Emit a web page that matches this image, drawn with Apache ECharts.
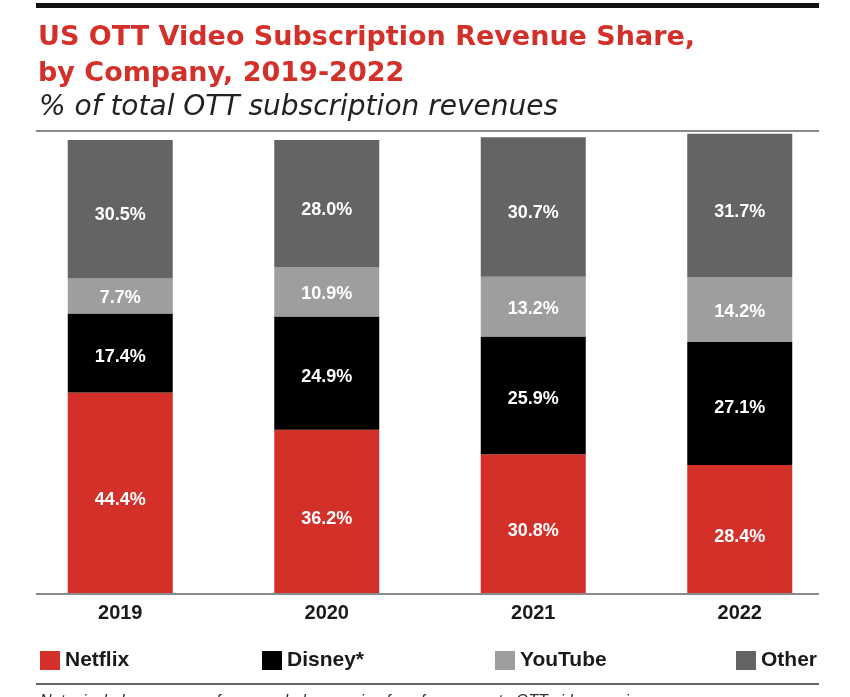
<!DOCTYPE html>
<html>
<head>
<meta charset="utf-8">
<script src="https://cdn.jsdelivr.net/npm/echarts@6/dist/echarts.min.js"></script>
<style>html,body{margin:0;padding:0;background:#fff;}#main{width:850px;height:697px;}</style>
</head>
<body>
<div id="main"></div>
<script>
var categories = ['2019', '2020', '2021', '2022'];
var netflix = [44.4, 36.2, 30.8, 28.4];
var disney = [17.4, 24.9, 25.9, 27.1];
var youtube = [7.7, 10.9, 13.2, 14.2];
var other = [30.5, 28.0, 30.7, 31.7];
var seriesNames = ['Netflix', 'Disney*', 'YouTube', 'Other'];
var colors = ['#d4302a', '#000000', '#9e9e9e', '#646464'];

var FONT = "'Liberation Sans', Arial, sans-serif";
var WIDE = "'DejaVu Sans', sans-serif";
var chart = echarts.init(document.getElementById('main'), null, {renderer: 'canvas'});

function mkSeries(name, data, color, offY) {
  return {
    name: name, type: 'bar', stack: 'total', data: data,
    barWidth: 105, clip: false,
    itemStyle: {color: color},
    label: {
      show: true, position: 'inside', offset: [0, offY],
      color: '#ffffff', fontFamily: FONT, fontWeight: 'bold', fontSize: 18,
      formatter: function (p) { return p.value.toFixed(1) + '%'; }
    }
  };
}

var legendLefts = [35, 257, 490, 731];
var legends = seriesNames.map(function (n, i) {
  return {
    data: [n], left: legendLefts[i], top: 645, itemWidth: 20, itemHeight: 19, icon: 'rect',
    itemGap: 8,
    textStyle: {fontFamily: FONT, fontWeight: 'bold', fontSize: 21, color: '#1a1a1a'}
  };
});

chart.setOption({
  animation: false,
  backgroundColor: '#ffffff',
  title: [
    {
      text: 'US OTT Video Subscription Revenue Share,\nby Company, 2019-2022',
      left: 33, top: 15,
      textStyle: {fontFamily: WIDE, fontWeight: 'bold', fontSize: 27, lineHeight: 36, color: '#d4302a'}
    },
    {
      text: '% of total OTT subscription revenues',
      left: 34, top: 89,
      textStyle: {fontFamily: WIDE, fontStyle: 'italic', fontWeight: 300, fontSize: 28, color: '#222222'}
    },
    {
      text: 'Note: includes revenues from regularly recurring fees for access to OTT video services',
      left: 35, top: 689,
      textStyle: {fontFamily: FONT, fontStyle: 'italic', fontWeight: 'normal', fontSize: 16, color: '#333333'}
    }
  ],
  legend: legends,
  grid: {left: 17, right: 7, top: 140, bottom: 103, containLabel: false},
  xAxis: {
    type: 'category', data: categories,
    axisLine: {show: false}, axisTick: {show: false},
    axisLabel: {fontFamily: FONT, fontWeight: 'bold', fontSize: 20, color: '#1a1a1a', margin: 9}
  },
  yAxis: {type: 'value', min: 0, max: 100, show: false, splitLine: {show: false}},
  series: [
    mkSeries(seriesNames[0], netflix, colors[0], 7),
    mkSeries(seriesNames[1], disney, colors[1], 4),
    mkSeries(seriesNames[2], youtube, colors[2], 2),
    mkSeries(seriesNames[3], other, colors[3], 6)
  ],
  graphic: [
    {type: 'rect', shape: {x: 36, y: 3, width: 783, height: 5}, style: {fill: '#111111'}},
    {type: 'line', shape: {x1: 36, y1: 131, x2: 819, y2: 131}, style: {stroke: '#8a8a8a', lineWidth: 2}},
    {type: 'line', shape: {x1: 36, y1: 594, x2: 819, y2: 594}, style: {stroke: '#8a8a8a', lineWidth: 2}, z: 10},
    {type: 'line', shape: {x1: 36, y1: 684, x2: 819, y2: 684}, style: {stroke: '#666666', lineWidth: 2}}
  ]
});
</script>
</body>
</html>
